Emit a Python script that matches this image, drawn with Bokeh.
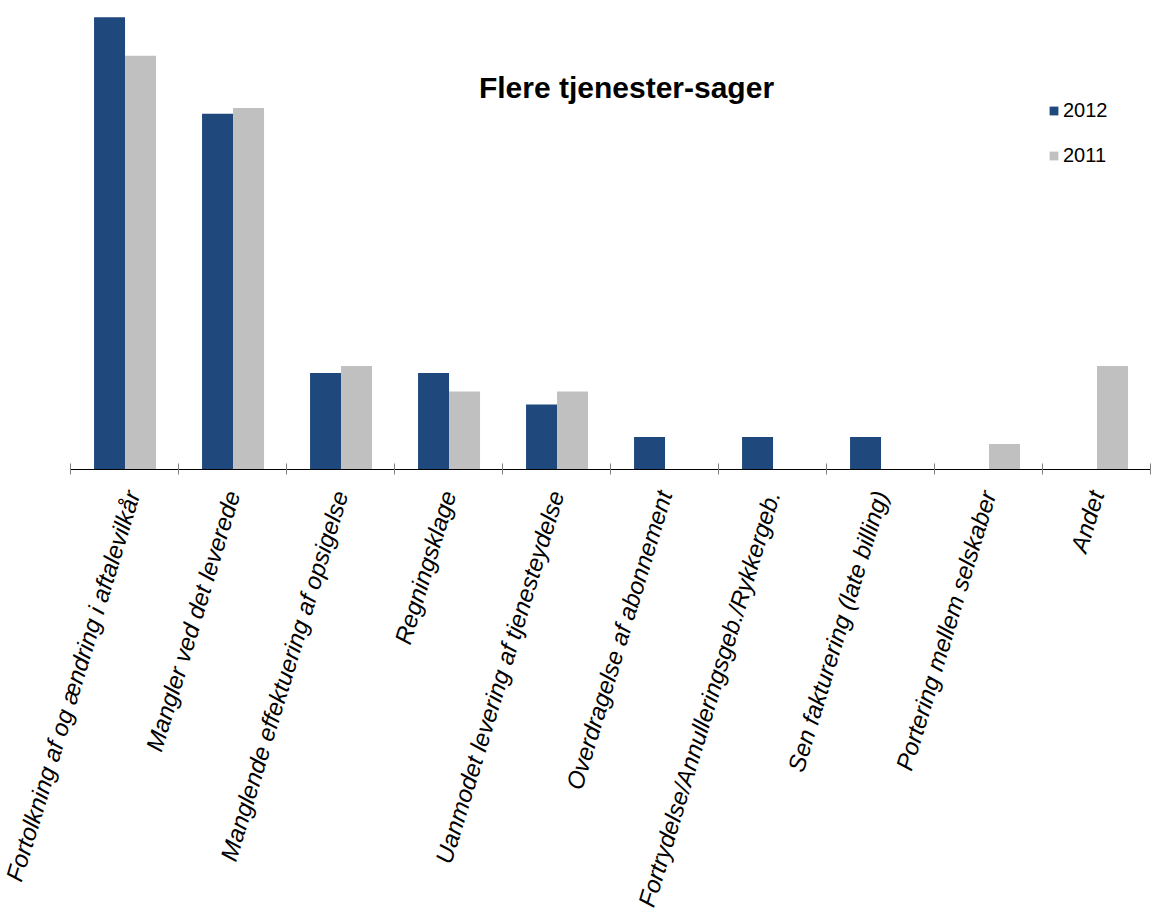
import math
from bokeh.plotting import figure
from bokeh.models import ColumnDataSource, FixedTicker, Range1d, Legend, LegendItem, Label
from bokeh.embed import file_html
from bokeh.resources import INLINE

categories = [
    "Fortolkning af og ændring i aftalevilkår",
    "Mangler ved det leverede",
    "Manglende effektuering af opsigelse",
    "Regningsklage",
    "Uanmodet levering af tjenesteydelse",
    "Overdragelse af abonnement",
    "Fortrydelse/Annulleringsgeb./Rykkergeb.",
    "Sen fakturering (late billing)",
    "Portering mellem selskaber",
    "Andet",
]
values_2012 = [38.9, 30.6, 8.3, 8.3, 5.6, 2.8, 2.8, 2.8, 0.0, 0.0]
values_2011 = [35.6, 31.1, 8.9, 6.7, 6.7, 0.0, 0.0, 0.0, 2.2, 8.9]
series_names = ["2012", "2011"]
colors = ["#1F497D", "#C0C0C0"]

n = len(categories)
centers = [i + 0.5 for i in range(n)]
bw = 0.287
src = ColumnDataSource(dict(
    c=centers,
    x12=[c - bw / 2 + 0.005 for c in centers],
    x11=[c + bw / 2 + 0.005 for c in centers],
    v12=values_2012,
    v11=values_2011,
))

p = figure(frame_width=1080, frame_height=465, output_backend="svg", toolbar_location=None,
           x_range=Range1d(0, n), y_range=Range1d(0, 40),
           min_border_left=70, min_border_right=1, min_border_top=4, min_border_bottom=0)
p.outline_line_color = None
p.xgrid.visible = False
p.ygrid.visible = False
p.yaxis.visible = False

r12 = p.vbar(x="x12", top="v12", width=bw, source=src, fill_color=colors[0], line_color=None)
r11 = p.vbar(x="x11", top="v11", width=bw, source=src, fill_color=colors[1], line_color=None)

ax = p.xaxis[0]
ax.ticker = FixedTicker(ticks=centers, minor_ticks=list(range(n + 1)))
ax.major_label_overrides = {c: name for c, name in zip(centers, categories)}
ax.major_tick_line_color = None
ax.minor_tick_in = 6
ax.minor_tick_out = 5
ax.minor_tick_line_color = "#808080"
ax.axis_line_color = "black"
ax.major_label_orientation = math.radians(73)
ax.major_label_text_font = "Liberation Sans"
ax.major_label_text_font_style = "italic"
ax.major_label_text_font_size = "24px"
ax.major_label_text_color = "black"
ax.major_label_standoff = 16

legend = Legend(items=[LegendItem(label=series_names[0], renderers=[r12]),
                       LegendItem(label=series_names[1], renderers=[r11])],
                location=(978, 302), orientation="vertical")
legend.glyph_width = 11
legend.glyph_height = 11
legend.label_height = 20
legend.spacing = 22
legend.padding = 0
legend.margin = 0
legend.border_line_color = None
legend.background_fill_color = None
legend.label_text_font = "Liberation Sans"
legend.label_text_font_size = "20px"
legend.label_text_color = "black"
legend.label_standoff = 4
p.add_layout(legend)

title = Label(x=5.148, y=32.9, text="Flere tjenester-sager", text_align="center",
              text_baseline="middle", text_font="Liberation Sans", text_font_style="bold",
              text_font_size="30px", text_color="black")
p.add_layout(title)

open("out.html", "w").write(file_html(p, INLINE))
